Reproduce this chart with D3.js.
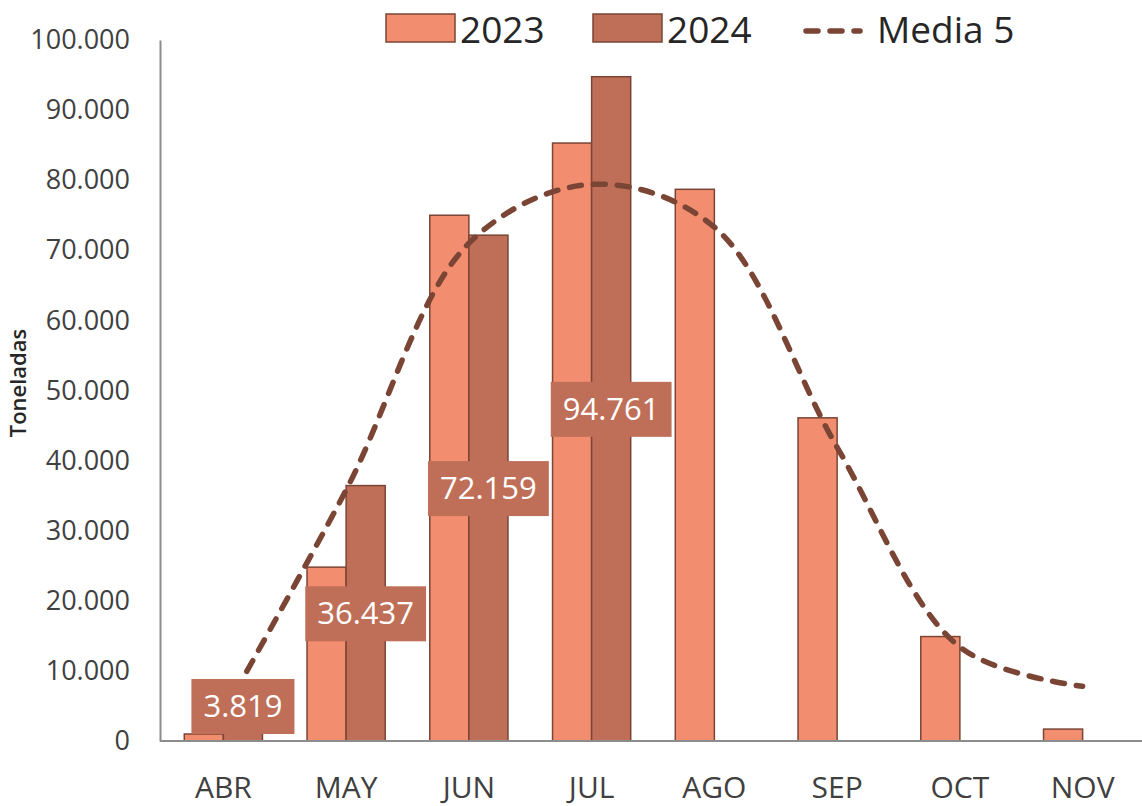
<!DOCTYPE html>
<html>
<head>
<meta charset="utf-8">
<script src="https://cdn.jsdelivr.net/npm/d3@7"></script>
<style>
  body { margin: 0; background: #fff; }
  text { font-family: "Open Sans", sans-serif; }
</style>
</head>
<body>
<div id="chart"></div>
<script>
// Data
var months = ["ABR", "MAY", "JUN", "JUL", "AGO", "SEP", "OCT", "NOV"];
var series = ["2023", "2024"];
var values2023 = [1000, 24800, 75000, 85300, 78700, 46100, 14900, 1700];
var values2024 = [3819, 36437, 72159, 94761, null, null, null, null];
var media5 = [4000, 35800, 71000, 79400, 73300, 41900, 13400, 7800];
var yTicks = [0, 10000, 20000, 30000, 40000, 50000, 60000, 70000, 80000, 90000, 100000];

var width = 1142, height = 806;
var margin = { top: 40, right: 0, bottom: 65, left: 160 };

var svg = d3.select("#chart")
    .append("svg")
    .attr("width", width)
    .attr("height", height);

var fmt = d3.formatLocale({ decimal: ",", thousands: ".", grouping: [3], currency: ["", ""] }).format(",");

var colors = { "2023": "#F28D6F", "2024": "#BF6F58" };
var strokeCol = "#7A4535";
var lineCol = "#7B4535";

// scales
var x = d3.scaleBand()
    .domain(months)
    .range([margin.left + 2, width - margin.right + 2]);

var x1 = d3.scaleBand()
    .domain(series)
    .range([0, x.bandwidth()])
    .paddingOuter(0.57);

var y = d3.scaleLinear()
    .domain([0, 100000])
    .range([height - margin.bottom, margin.top]);

// Y axis
var yAxis = svg.append("g")
    .attr("transform", "translate(" + margin.left + ",0)")
    .call(d3.axisLeft(y).tickValues(yTicks).tickFormat(fmt).tickSize(0).tickPadding(30));
yAxis.select(".domain").attr("stroke", "#8c8c8c").attr("stroke-width", 2);
yAxis.selectAll("text").style("font-size", "27px").attr("fill", "#404040");

// bars
var rows = months.map(function (m, i) {
    return { month: m, vals: [{ key: "2023", v: values2023[i] }, { key: "2024", v: values2024[i] }] };
});

svg.append("g")
    .selectAll("g")
    .data(rows)
    .enter()
    .append("g")
    .attr("transform", function (d) { return "translate(" + x(d.month) + ",0)"; })
    .selectAll("rect")
    .data(function (d) { return d.vals.filter(function (e) { return e.v != null; }); })
    .enter()
    .append("rect")
    .attr("x", function (d) { return x1(d.key); })
    .attr("width", x1.bandwidth())
    .attr("y", function (d) { return y(d.v); })
    .attr("height", function (d) { return y(0) - y(d.v); })
    .attr("fill", function (d) { return colors[d.key]; })
    .attr("stroke", strokeCol)
    .attr("stroke-width", 1.5);

// X axis
var xAxis = svg.append("g")
    .attr("transform", "translate(0," + y(0) + ")")
    .call(d3.axisBottom(x).tickSize(0).tickPadding(36));
xAxis.select(".domain").attr("d", "M" + margin.left + ",0H" + width)
    .attr("stroke", "#8c8c8c").attr("stroke-width", 2);
xAxis.selectAll("text").style("font-size", "30px").attr("fill", "#404040");

// Media 5 line
var line = d3.line()
    .x(function (d, i) { return x(months[i]) + x.bandwidth() / 2; })
    .y(function (d) { return y(d); })
    .curve(d3.curveCatmullRom.alpha(0.5));

svg.append("path")
    .datum(media5)
    .attr("d", line)
    .attr("fill", "none")
    .attr("stroke", lineCol)
    .attr("stroke-width", 5.5)
    .attr("stroke-linecap", "round")
    .attr("stroke-dasharray", "12,12");

// data labels for 2024
var labels = svg.append("g")
    .selectAll("g")
    .data(values2024.map(function (v, i) { return { month: months[i], v: v }; }).filter(function (d) { return d.v != null; }))
    .enter()
    .append("g")
    .attr("transform", function (d) {
        var cx = x(d.month) + x1("2024") + x1.bandwidth() / 2;
        var cy = Math.min((y(0) + y(d.v)) / 2, y(0) - 35);
        return "translate(" + cx + "," + cy + ")";
    });

labels.append("rect");
labels.append("text")
    .attr("text-anchor", "middle")
    .attr("dy", "0.36em")
    .style("font-size", "31px")
    .attr("fill", "#fff")
    .text(function (d) { return fmt(d.v); });

labels.each(function () {
    var g = d3.select(this);
    var w = g.select("text").node().getComputedTextLength();
    g.select("rect")
        .attr("x", -w / 2 - 12)
        .attr("y", -27)
        .attr("width", w + 24)
        .attr("height", 55)
        .attr("fill", colors["2024"]);
});

// Y axis title
svg.append("text")
    .attr("transform", "translate(26,383) rotate(-90)")
    .attr("text-anchor", "middle")
    .style("font-size", "22px")
    .style("font-weight", "600")
    .attr("fill", "#262626")
    .text("Toneladas");

// legend
var legend = svg.append("g");
var legItems = [
    { key: "2023", x: 386 },
    { key: "2024", x: 593 }
];
legItems.forEach(function (d) {
    legend.append("rect")
        .attr("x", d.x).attr("y", 14).attr("width", 69).attr("height", 28)
        .attr("fill", colors[d.key]).attr("stroke", strokeCol).attr("stroke-width", 1.5);
    legend.append("text")
        .attr("x", d.x + 74).attr("y", 30).attr("dy", "0.36em")
        .style("font-size", "37px").attr("fill", "#262626")
        .text(d.key);
});
legend.append("line")
    .attr("x1", 806).attr("x2", 860).attr("y1", 31).attr("y2", 31)
    .attr("stroke", lineCol).attr("stroke-width", 5.5)
    .attr("stroke-linecap", "round").attr("stroke-dasharray", "12,12");
legend.append("text")
    .attr("x", 877).attr("y", 30).attr("dy", "0.36em")
    .style("font-size", "37px").attr("fill", "#262626")
    .text("Media 5");
</script>
</body>
</html>
